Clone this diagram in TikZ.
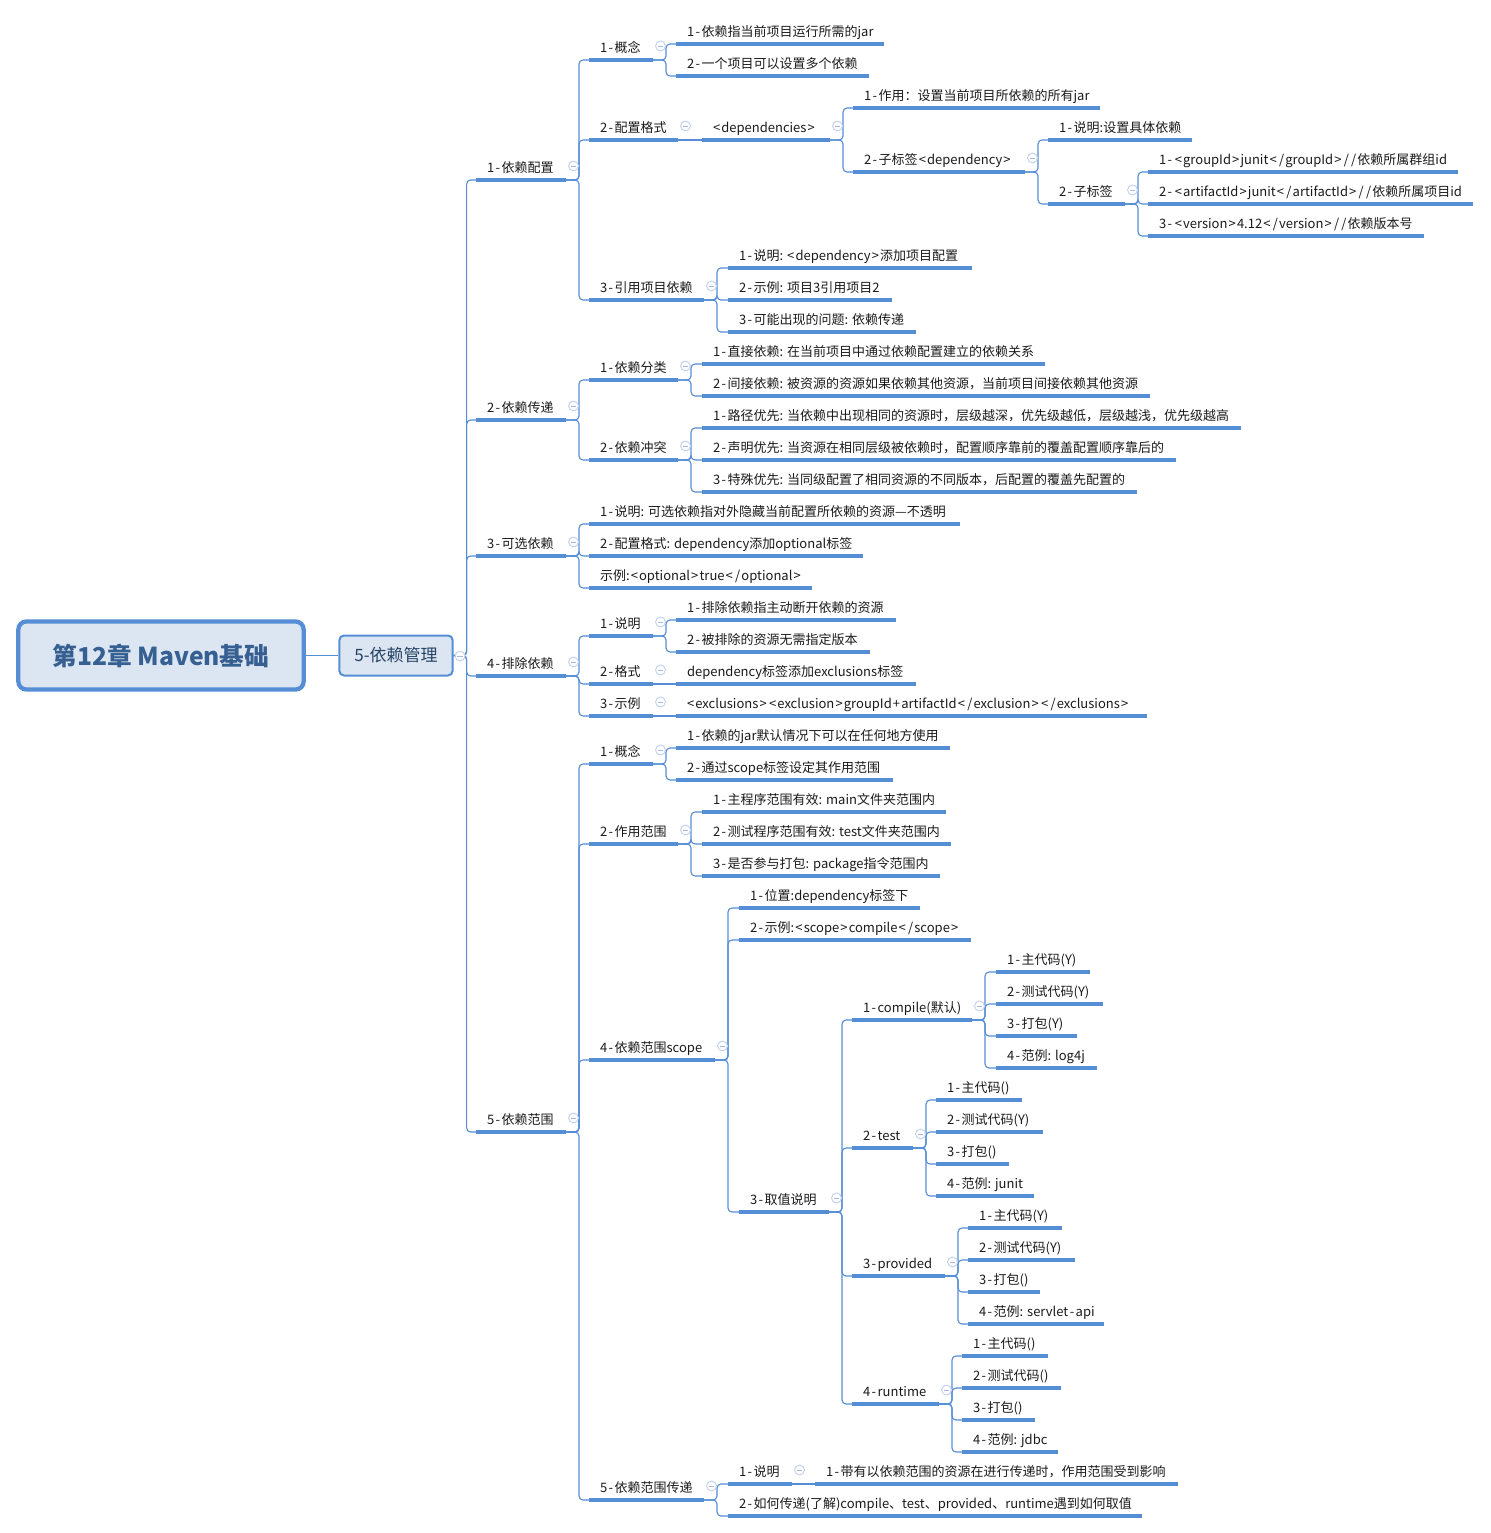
\documentclass[tikz,border=0pt]{standalone}
\usepackage{fontspec}
\setmainfont{Noto Sans CJK SC}
\definecolor{lineblue}{HTML}{558ED5}
\definecolor{fillblue}{HTML}{DCE6F2}
\definecolor{rootink}{HTML}{376092}
\definecolor{markring}{HTML}{C5D3EF}
\definecolor{markdash}{HTML}{A9B8D8}
\definecolor{inkdark}{HTML}{1A1A1A}
% full-width punctuation
\newcommand{\qd}{^^^^ff0c}
\newcommand{\mh}{^^^^ff1a}
% Wider hyphens and brackets, as the reference's screen font has them
\newXeTeXintercharclass\hyclass
\newXeTeXintercharclass\brclass
\XeTeXcharclass`\-=\hyclass
\XeTeXcharclass`\<=\brclass
\XeTeXcharclass`\>=\brclass
\XeTeXcharclass`\+=\brclass
\XeTeXcharclass`\/=\brclass
\makeatletter
\@tempcnta=0
\loop
  \XeTeXinterchartoks\@tempcnta\hyclass={\kern1.1pt }
  \XeTeXinterchartoks\hyclass\@tempcnta={\kern1.1pt }
  \XeTeXinterchartoks\@tempcnta\brclass={\kern.85pt }
  \XeTeXinterchartoks\brclass\@tempcnta={\kern.85pt }
  \advance\@tempcnta by 1
\ifnum\@tempcnta<4 \repeat
\makeatother
\XeTeXinterchartoks\hyclass\brclass={\kern1.95pt }
\XeTeXinterchartoks\brclass\hyclass={\kern1.95pt }
\XeTeXinterchartoks\brclass\brclass={\kern1.7pt }
\tikzset{
  topicnode/.style={inner xsep=0pt,inner ysep=3.2pt,outer sep=0pt,anchor=south west,text=inkdark,
    font=\fontsize{9.75pt}{11pt}\selectfont,text height=7.6pt,text depth=2.2pt},
  uline/.style={draw=lineblue,line width=2.4pt},
  link/.style={draw=lineblue,line width=.85pt,rounded corners=3pt},
  marknode/.style={circle,draw=markring,fill=white,line width=.75pt,minimum size=7.4pt,inner sep=0pt,
    path picture={\draw[markdash,line width=.7pt] ([xshift=-2pt]path picture bounding box.center) -- ([xshift=2pt]path picture bounding box.center);}},
  rootbox/.style={draw=lineblue,fill=fillblue,line width=3.2pt,rounded corners=6pt,text=rootink,
    font=\fontsize{18.5pt}{23pt}\selectfont\bfseries,minimum width=214pt,minimum height=51pt,inner sep=0pt},
  mainbox/.style={draw=lineblue,fill=fillblue,line width=1.5pt,rounded corners=3.5pt,text=rootink!70!black,
    font=\fontsize{12.75pt}{15pt}\selectfont,minimum width=85pt,minimum height=30pt,inner sep=0pt}
}
% \topic{name}{x0}{x1}{y}{text}
\newcommand{\topic}[5]{%
  \pgfmathsetlengthmacro{\topicw}{(#3-#2)*.75pt}%
  \node[topicnode] (#1) at (#2,#4) {\XeTeXinterchartokenstate=1 \makebox[\topicw][l]{\hspace{8.25pt}#5}};
  \draw[uline] (#1.south west) -- (#1.south east);
}
% fold marker of a topic
\newcommand{\fold}[1]{\node[marknode] (m#1) at ([shift={(7.5,-14)}]#1.south east) {};}
% elbow connector parent -> child
\newcommand{\conn}[2]{\draw[link] (#1.south east) -- ++(13,0) |- (#2.south west);}
\newcommand{\direct}[2]{\draw[link] (#1.south east) -- (#2.south west);}
\begin{document}
\begin{tikzpicture}[x=.75pt,y=-.75pt]
\useasboundingbox (0,0) rectangle (1490,1533);
\node[rootbox] (root) at (161,655.5) {第12章 Maven基础};
\node[mainbox] (main) at (396,655.5) {5-依赖管理};
\draw[link] (root.east) -- (main.west);

\topic{a1}{476}{566}{180}{1-依赖配置}
\topic{a2}{476}{566}{420}{2-依赖传递}
\topic{a3}{476}{566}{556}{3-可选依赖}
\topic{a4}{476}{566}{676}{4-排除依赖}
\topic{a5}{476}{566}{1132}{5-依赖范围}
\foreach \c in {a1,a2,a3,a4,a5}{\draw[link] (main.east) -- ++(13,0) |- (\c.south west);}

% 1-依赖配置
\topic{b1}{589}{653}{60}{1-概念}
\topic{b2}{589}{678}{140}{2-配置格式}
\topic{b3}{589}{704}{300}{3-引用项目依赖}
\foreach \c in {b1,b2,b3}{\conn{a1}{\c}}
\topic{b1a}{676}{884}{44}{1-依赖指当前项目运行所需的jar}
\topic{b1b}{676}{869}{76}{2-一个项目可以设置多个依赖}
\conn{b1}{b1a}\conn{b1}{b1b}
\topic{b2x}{702}{830}{140}{<dependencies>}
\direct{b2}{b2x}
\topic{b2a}{853}{1100}{108}{1-作用\mh{}设置当前项目所依赖的所有jar}
\topic{b2b}{853}{1025}{172}{2-子标签<dependency>}
\conn{b2x}{b2a}\conn{b2x}{b2b}
\topic{b2c}{1048}{1192}{140}{1-说明:设置具体依赖}
\topic{b2d}{1048}{1125}{204}{2-子标签}
\conn{b2b}{b2c}\conn{b2b}{b2d}
\topic{b2e}{1148}{1458}{172}{1-<groupId>junit</groupId>//依赖所属群组id}
\topic{b2f}{1148}{1473}{204}{2-<artifactId>junit</artifactId>//依赖所属项目id}
\topic{b2g}{1148}{1424}{236}{3-<version>4.12</version>//依赖版本号}
\conn{b2d}{b2e}\conn{b2d}{b2f}\conn{b2d}{b2g}
\topic{b3a}{728}{972}{268}{1-说明: <dependency>添加项目配置}
\topic{b3b}{728}{892}{300}{2-示例: 项目3引用项目2}
\topic{b3c}{728}{916}{332}{3-可能出现的问题: 依赖传递}
\conn{b3}{b3a}\conn{b3}{b3b}\conn{b3}{b3c}

% 2-依赖传递
\topic{c1}{589}{678}{380}{1-依赖分类}
\topic{c2}{589}{678}{460}{2-依赖冲突}
\conn{a2}{c1}\conn{a2}{c2}
\topic{c1a}{702}{1045}{364}{1-直接依赖: 在当前项目中通过依赖配置建立的依赖关系}
\topic{c1b}{702}{1150}{396}{2-间接依赖: 被资源的资源如果依赖其他资源\qd{}当前项目间接依赖其他资源}
\conn{c1}{c1a}\conn{c1}{c1b}
\topic{c2a}{702}{1241}{428}{1-路径优先: 当依赖中出现相同的资源时\qd{}层级越深\qd{}优先级越低\qd{}层级越浅\qd{}优先级越高}
\topic{c2b}{702}{1176}{460}{2-声明优先: 当资源在相同层级被依赖时\qd{}配置顺序靠前的覆盖配置顺序靠后的}
\topic{c2c}{702}{1137}{492}{3-特殊优先: 当同级配置了相同资源的不同版本\qd{}后配置的覆盖先配置的}
\conn{c2}{c2a}\conn{c2}{c2b}\conn{c2}{c2c}

% 3-可选依赖
\topic{d1}{589}{960}{524}{1-说明: 可选依赖指对外隐藏当前配置所依赖的资源—不透明}
\topic{d2}{589}{863}{556}{2-配置格式: dependency添加optional标签}
\topic{d3}{589}{812}{588}{示例:<optional>true</optional>}
\conn{a3}{d1}\conn{a3}{d2}\conn{a3}{d3}

% 4-排除依赖
\topic{e1}{589}{653}{636}{1-说明}
\topic{e2}{589}{653}{684}{2-格式}
\topic{e3}{589}{653}{716}{3-示例}
\conn{a4}{e1}\conn{a4}{e2}\conn{a4}{e3}
\topic{e1a}{676}{896}{620}{1-排除依赖指主动断开依赖的资源}
\topic{e1b}{676}{870}{652}{2-被排除的资源无需指定版本}
\conn{e1}{e1a}\conn{e1}{e1b}
\topic{e2a}{676}{916}{684}{dependency标签添加exclusions标签}
\direct{e2}{e2a}
\topic{e3a}{676}{1147}{716}{<exclusions><exclusion>groupId+artifactId</exclusion></exclusions>}
\direct{e3}{e3a}

% 5-依赖范围
\topic{f1}{589}{653}{764}{1-概念}
\topic{f2}{589}{678}{844}{2-作用范围}
\topic{f4}{589}{715}{1060}{4-依赖范围scope}
\topic{f5}{589}{704}{1500}{5-依赖范围传递}
\foreach \c in {f1,f2,f4,f5}{\conn{a5}{\c}}
\topic{f1a}{676}{950}{748}{1-依赖的jar默认情况下可以在任何地方使用}
\topic{f1b}{676}{893}{780}{2-通过scope标签设定其作用范围}
\conn{f1}{f1a}\conn{f1}{f1b}
\topic{f2a}{702}{946}{812}{1-主程序范围有效: main文件夹范围内}
\topic{f2b}{702}{951}{844}{2-测试程序范围有效: test文件夹范围内}
\topic{f2c}{702}{940}{876}{3-是否参与打包: package指令范围内}
\conn{f2}{f2a}\conn{f2}{f2b}\conn{f2}{f2c}
\topic{f4a}{739}{920}{908}{1-位置:dependency标签下}
\topic{f4b}{739}{971}{940}{2-示例:<scope>compile</scope>}
\topic{f4c}{739}{829}{1212}{3-取值说明}
\conn{f4}{f4a}\conn{f4}{f4b}\conn{f4}{f4c}
\topic{g1}{852}{972}{1020}{1-compile(默认)}
\topic{g2}{852}{913}{1148}{2-test}
\topic{g3}{852}{945}{1276}{3-provided}
\topic{g4}{852}{939}{1404}{4-runtime}
\foreach \c in {g1,g2,g3,g4}{\conn{f4c}{\c}}
\topic{g1a}{996}{1090}{972}{1-主代码(Y)}
\topic{g1b}{996}{1103}{1004}{2-测试代码(Y)}
\topic{g1c}{996}{1077}{1036}{3-打包(Y)}
\topic{g1d}{996}{1097}{1068}{4-范例: log4j}
\foreach \c in {g1a,g1b,g1c,g1d}{\conn{g1}{\c}}
\topic{g2a}{936}{1022}{1100}{1-主代码()}
\topic{g2b}{936}{1043}{1132}{2-测试代码(Y)}
\topic{g2c}{936}{1009}{1164}{3-打包()}
\topic{g2d}{936}{1034}{1196}{4-范例: junit}
\foreach \c in {g2a,g2b,g2c,g2d}{\conn{g2}{\c}}
\topic{g3a}{968}{1062}{1228}{1-主代码(Y)}
\topic{g3b}{968}{1075}{1260}{2-测试代码(Y)}
\topic{g3c}{968}{1040}{1292}{3-打包()}
\topic{g3d}{968}{1104}{1324}{4-范例: servlet-api}
\foreach \c in {g3a,g3b,g3c,g3d}{\conn{g3}{\c}}
\topic{g4a}{962}{1048}{1356}{1-主代码()}
\topic{g4b}{962}{1061}{1388}{2-测试代码()}
\topic{g4c}{962}{1035}{1420}{3-打包()}
\topic{g4d}{962}{1058}{1452}{4-范例: jdbc}
\foreach \c in {g4a,g4b,g4c,g4d}{\conn{g4}{\c}}
\topic{f5a}{728}{792}{1484}{1-说明}
\topic{f5b}{728}{1142}{1516}{2-如何传递(了解)compile、test、provided、runtime遇到如何取值}
\conn{f5}{f5a}\conn{f5}{f5b}
\topic{f5c}{815}{1178}{1484}{1-带有以依赖范围的资源在进行传递时\qd{}作用范围受到影响}
\direct{f5a}{f5c}

% fold markers
\node[marknode] (mmain) at (460,656) {};
\foreach \c in {a1,a2,a3,a4,a5,b1,b2,b2x,b2b,b2d,b3,c1,c2,e1,e2,e3,f1,f2,f4,f4c,g1,g2,g3,g4,f5,f5a}{\fold{\c}}
\end{tikzpicture}
\end{document}
